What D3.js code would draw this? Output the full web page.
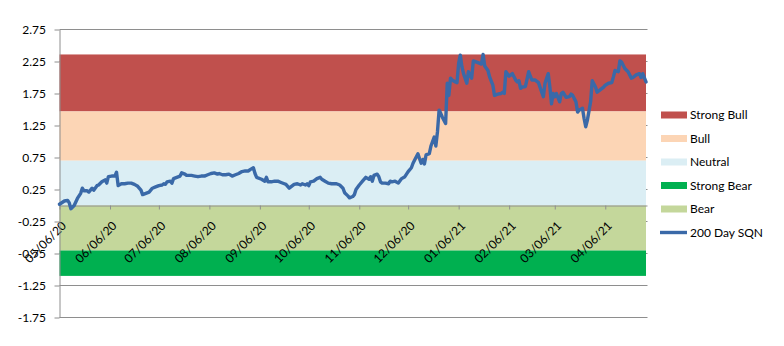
<!DOCTYPE html>
<html>
<head>
<meta charset="utf-8">
<script src="https://cdn.jsdelivr.net/npm/d3@7"></script>
<style>
  html, body { margin: 0; padding: 0; background: #fff; }
  svg { display: block; font-family: Lato, "Open Sans", sans-serif; }
</style>
</head>
<body>
<svg id="chart" width="784" height="346"></svg>
<script>
// Market-type bands for the System Quality Number
const bandNames  = ["Strong Bull", "Bull", "Neutral", "Strong Bear", "Bear"];
const bandLow    = [1.47, 0.70, 0.00, -1.10, -0.70];
const bandHigh   = [2.36, 1.47, 0.70, -0.70, 0.00];
const bandColors = ["#c0504d", "#fcd5b5", "#dbeef4", "#00b050", "#c4d79b"];

// 200 Day SQN readings
const sqnDates = [
  "2020-05-06","2020-05-09","2020-05-11","2020-05-12","2020-05-13","2020-05-15","2020-05-17","2020-05-19",
  "2020-05-20","2020-05-21","2020-05-23","2020-05-24","2020-05-26","2020-05-27","2020-05-29","2020-05-30",
  "2020-06-01","2020-06-03","2020-06-04","2020-06-05","2020-06-07","2020-06-09","2020-06-10","2020-06-11",
  "2020-06-13","2020-06-15","2020-06-17","2020-06-19","2020-06-21","2020-06-23","2020-06-25","2020-06-26",
  "2020-06-28","2020-06-30","2020-07-02","2020-07-04","2020-07-06","2020-07-08","2020-07-09","2020-07-10",
  "2020-07-11","2020-07-13","2020-07-14","2020-07-15","2020-07-17","2020-07-19","2020-07-20","2020-07-22",
  "2020-07-23","2020-07-26","2020-07-28","2020-07-30","2020-08-01","2020-08-03","2020-08-05","2020-08-07",
  "2020-08-09","2020-08-11","2020-08-12","2020-08-14","2020-08-16","2020-08-18","2020-08-20","2020-08-22",
  "2020-08-24","2020-08-26","2020-08-28","2020-08-30","2020-08-31","2020-09-02","2020-09-03","2020-09-04",
  "2020-09-07","2020-09-09","2020-09-10","2020-09-11","2020-09-13","2020-09-15","2020-09-17","2020-09-19",
  "2020-09-21","2020-09-22","2020-09-24","2020-09-25","2020-09-27","2020-09-29","2020-10-01","2020-10-02",
  "2020-10-04","2020-10-05","2020-10-06","2020-10-07","2020-10-09","2020-10-11","2020-10-13","2020-10-14",
  "2020-10-16","2020-10-18","2020-10-20","2020-10-23","2020-10-25","2020-10-27","2020-10-28","2020-10-30",
  "2020-10-31","2020-11-02","2020-11-03","2020-11-04","2020-11-06","2020-11-08","2020-11-10","2020-11-12",
  "2020-11-13","2020-11-14","2020-11-15","2020-11-17","2020-11-18","2020-11-19","2020-11-20","2020-11-22",
  "2020-11-24","2020-11-25","2020-11-26","2020-11-28","2020-11-30","2020-12-02","2020-12-04","2020-12-06",
  "2020-12-08","2020-12-09","2020-12-10","2020-12-12","2020-12-13","2020-12-14","2020-12-15","2020-12-16",
  "2020-12-17","2020-12-19","2020-12-20","2020-12-22","2020-12-23","2020-12-24","2020-12-25","2020-12-26",
  "2020-12-27","2020-12-29","2020-12-30","2020-12-31","2021-01-01","2021-01-02","2021-01-04","2021-01-05",
  "2021-01-06","2021-01-07","2021-01-08","2021-01-09","2021-01-11","2021-01-12","2021-01-14","2021-01-15",
  "2021-01-17","2021-01-19","2021-01-20","2021-01-21","2021-01-22","2021-01-24","2021-01-25","2021-01-27",
  "2021-01-28","2021-01-30","2021-02-01","2021-02-02","2021-02-03","2021-02-04","2021-02-06","2021-02-07",
  "2021-02-08","2021-02-10","2021-02-11","2021-02-12","2021-02-13","2021-02-14","2021-02-16","2021-02-18",
  "2021-02-19","2021-02-20","2021-02-22","2021-02-24","2021-02-26","2021-02-27","2021-02-28","2021-03-02",
  "2021-03-03","2021-03-04","2021-03-05","2021-03-06","2021-03-07","2021-03-09","2021-03-10","2021-03-11",
  "2021-03-13","2021-03-15","2021-03-16","2021-03-17","2021-03-19","2021-03-20","2021-03-21","2021-03-23",
  "2021-03-24","2021-03-25","2021-03-26","2021-03-28","2021-03-29","2021-03-31","2021-04-01","2021-04-03",
  "2021-04-05","2021-04-06","2021-04-08","2021-04-10","2021-04-11","2021-04-12","2021-04-14","2021-04-15",
  "2021-04-16","2021-04-18","2021-04-20","2021-04-22","2021-04-23","2021-04-25","2021-04-27","2021-04-28",
  "2021-04-29","2021-05-01"
];
const sqnValues = [
  0.02, 0.07, 0.08, 0.04, -0.05, 0.00, 0.11, 0.19,
  0.27, 0.23, 0.23, 0.21, 0.27, 0.24, 0.31, 0.32,
  0.37, 0.40, 0.35, 0.45, 0.46, 0.46, 0.52, 0.31,
  0.34, 0.34, 0.35, 0.35, 0.33, 0.30, 0.24, 0.17,
  0.19, 0.21, 0.27, 0.29, 0.31, 0.32, 0.34, 0.33,
  0.37, 0.38, 0.35, 0.42, 0.44, 0.46, 0.51, 0.49,
  0.47, 0.47, 0.46, 0.45, 0.46, 0.46, 0.48, 0.50,
  0.51, 0.49, 0.50, 0.48, 0.48, 0.49, 0.46, 0.48,
  0.50, 0.53, 0.54, 0.54, 0.56, 0.59, 0.50, 0.44,
  0.41, 0.38, 0.44, 0.37, 0.37, 0.38, 0.38, 0.36,
  0.34, 0.33, 0.27, 0.29, 0.33, 0.34, 0.32, 0.34,
  0.32, 0.34, 0.31, 0.37, 0.38, 0.42, 0.44, 0.41,
  0.38, 0.35, 0.34, 0.34, 0.32, 0.27, 0.20, 0.15,
  0.12, 0.14, 0.17, 0.25, 0.32, 0.38, 0.44, 0.41,
  0.45, 0.38, 0.47, 0.49, 0.45, 0.37, 0.35, 0.35,
  0.34, 0.38, 0.37, 0.38, 0.35, 0.42, 0.45, 0.53,
  0.59, 0.66, 0.71, 0.81, 0.73, 0.66, 0.72, 0.65,
  0.79, 0.81, 0.93, 1.07, 0.93, 1.15, 1.49, 1.44,
  1.38, 1.28, 1.91, 1.72, 1.99, 1.96, 1.93, 1.92,
  2.22, 2.35, 2.17, 2.06, 1.91, 2.09, 1.99, 2.26,
  2.24, 2.22, 2.21, 2.36, 2.18, 2.11, 2.01, 1.88,
  1.72, 1.74, 1.75, 1.77, 1.75, 2.09, 2.02, 2.04,
  2.06, 1.96, 1.93, 1.95, 1.83, 1.85, 1.86, 2.09,
  2.02, 1.96, 1.96, 1.92, 1.77, 1.70, 1.91, 2.06,
  1.85, 1.59, 1.75, 1.70, 1.75, 1.62, 1.75, 1.77,
  1.69, 1.70, 1.74, 1.72, 1.62, 1.46, 1.49, 1.52,
  1.36, 1.23, 1.33, 1.62, 1.95, 1.85, 1.77, 1.81,
  1.85, 1.88, 1.91, 1.92, 2.01, 2.11, 2.09, 2.26,
  2.24, 2.14, 2.09, 1.99, 2.00, 2.04, 2.06, 2.00,
  2.06, 1.93
];

// Axis ticks
const xTickLabels = ["05/06/20","06/06/20","07/06/20","08/06/20","09/06/20","10/06/20",
                     "11/06/20","12/06/20","01/06/21","02/06/21","03/06/21","04/06/21"];
const yTicks = [2.75, 2.25, 1.75, 1.25, 0.75, 0.25, -0.25, -0.75, -1.25, -1.75];
const xDomain = ["2020-05-06", "2021-05-01"];
const seriesName = "200 Day SQN";

const parseISO = d3.timeParse("%Y-%m-%d");
const parseTick = d3.timeParse("%m/%d/%y");
const fmtTick = d3.timeFormat("%m/%d/%y");

const svg = d3.select("#chart");
const plotLeft = 59.5, plotRight = 646, plotTop = 29.5, plotBottom = 317.5;

const x = d3.scaleTime().domain(xDomain.map(parseISO)).range([plotLeft, plotRight]);
const y = d3.scaleLinear().domain([d3.min(yTicks), d3.max(yTicks)]).range([plotBottom, plotTop]);

const gridColor = "#8e8e8e";
const lineColor = "#3a69a8";

// horizontal gridlines (sit behind the bands)
svg.append("g")
  .selectAll("line")
  .data(yTicks)
  .join("line")
  .attr("x1", plotLeft).attr("x2", plotRight + 1.5)
  .attr("y1", d => y(d)).attr("y2", d => y(d))
  .attr("stroke", gridColor).attr("stroke-width", 1);

// market-type bands
svg.append("g")
  .selectAll("rect")
  .data(bandNames.map((n, i) => ({ name: n, lo: bandLow[i], hi: bandHigh[i], color: bandColors[i] })))
  .join("rect")
  .attr("x", plotLeft)
  .attr("width", plotRight - plotLeft)
  .attr("y", d => y(d.hi))
  .attr("height", d => y(d.lo) - y(d.hi))
  .attr("fill", d => d.color);

// date axis crossing at zero
const xAxis = d3.axisBottom(x)
  .tickValues(xTickLabels.map(parseTick))
  .tickFormat(fmtTick)
  .tickSize(4)
  .tickSizeOuter(0);

const gx = svg.append("g")
  .attr("transform", `translate(0,${Math.round(y(0)) - 0.5})`)
  .call(xAxis);
gx.select(".domain").attr("stroke", gridColor).attr("d", `M${plotLeft},0.5H${plotRight + 1.5}`);
gx.selectAll(".tick line").attr("stroke", gridColor);
gx.selectAll(".tick text")
  .attr("fill", "#000")
  .attr("font-size", 12)
  .attr("font-family", "Lato, 'Open Sans', sans-serif")
  .attr("text-anchor", "end")
  .attr("dy", null)
  .attr("y", null)
  .attr("transform", "translate(7,21) rotate(-45)");

// value axis
const yAxis = d3.axisLeft(y)
  .tickValues(yTicks)
  .tickFormat(d => d.toFixed(2))
  .tickSize(5)
  .tickSizeOuter(0);
const gy = svg.append("g")
  .attr("transform", `translate(${plotLeft},0)`)
  .call(yAxis);
gy.select(".domain").attr("stroke", gridColor);
gy.selectAll(".tick line").attr("stroke", gridColor);
gy.selectAll(".tick text")
  .attr("fill", "#000")
  .attr("font-size", 12)
  .attr("font-family", "Lato, 'Open Sans', sans-serif")
  .attr("x", -13.5);

// SQN line
const series = sqnDates.map((d, i) => ({ date: parseISO(d), value: sqnValues[i] }));
const line = d3.line().x(d => x(d.date)).y(d => y(d.value));
svg.append("path")
  .datum(series)
  .attr("d", line)
  .attr("fill", "none")
  .attr("stroke", lineColor)
  .attr("stroke-width", 3.4)
  .attr("stroke-linejoin", "round")
  .attr("stroke-linecap", "round");

// legend
const legendItems = bandNames.map((n, i) => ({ name: n, color: bandColors[i], type: "band" }))
  .concat([{ name: seriesName, color: lineColor, type: "line" }]);
const legend = svg.append("g").attr("transform", "translate(661,115)");
const rows = legend.selectAll("g")
  .data(legendItems)
  .join("g")
  .attr("transform", (d, i) => `translate(0,${i * 23.5})`);
rows.filter(d => d.type === "band").append("rect")
  .attr("x", 0).attr("y", -3.5).attr("width", 26).attr("height", 7)
  .attr("fill", d => d.color);
rows.filter(d => d.type === "line").append("line")
  .attr("x1", -1).attr("x2", 26).attr("y1", 0).attr("y2", 0)
  .attr("stroke", d => d.color).attr("stroke-width", 3.4);
rows.append("text")
  .attr("x", 29).attr("y", 0).attr("dy", "0.35em")
  .attr("font-size", 12)
  .attr("fill", "#000")
  .text(d => d.name);
</script>
</body>
</html>
